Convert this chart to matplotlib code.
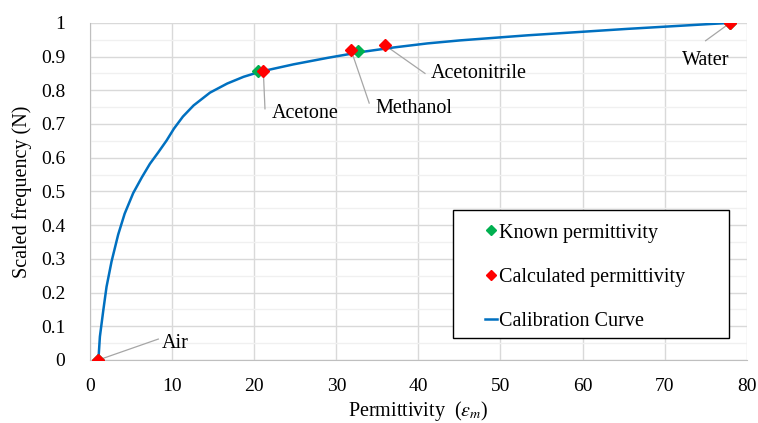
import numpy as np
import matplotlib
matplotlib.use('Agg')
import matplotlib.pyplot as plt
from matplotlib.ticker import MultipleLocator
from matplotlib.patches import Rectangle

# calibration curve
curve_x = [1, 1.18, 1.6, 1.99, 2.6, 3.41, 4.2, 5.24, 6.3, 7.28, 8.3, 9.31, 10.2, 11.3,
           12.6, 14.6, 16.7, 18.7, 20.7, 24.8, 28.9, 32.9, 37.0, 41.1, 45.1, 53.3, 65.4, 78]
curve_y = [0, 0.069, 0.148, 0.217, 0.292, 0.372, 0.434, 0.495, 0.542, 0.582, 0.616, 0.651,
           0.686, 0.722, 0.755, 0.793, 0.82, 0.84, 0.855, 0.877, 0.896, 0.913, 0.927,
           0.939, 0.948, 0.963, 0.982, 1.0]

known_x = [1, 20.5, 32.6, 78]
known_y = [0, 0.856, 0.917, 1.0]

calc_names = ['Air', 'Acetone', 'Methanol', 'Acetonitrile', 'Water']
calc_x = [1, 21.1, 31.8, 35.9, 78]
calc_y = [0, 0.856, 0.919, 0.934, 1.0]

# label positions (data coords)
label_xy = [(8.7, 0.05), (22.1, 0.73), (34.8, 0.745), (41.5, 0.85), (72.1, 0.888)]
leader_end = [(8.3, 0.062), (21.3, 0.745), (34.0, 0.762), (40.8, 0.85), (75.0, 0.947)]

plt.rcParams['font.family'] = ['Liberation Serif', 'DejaVu Serif']
plt.rcParams['mathtext.fontset'] = 'stix'
FS = 14.5

fig = plt.figure(figsize=(7.58, 4.23), dpi=100)
ax = fig.add_axes([0.119, 0.149, 0.866, 0.797])

ax.set_xlim(0, 80)
ax.set_ylim(0, 1)
ax.xaxis.set_major_locator(MultipleLocator(10))
ax.yaxis.set_minor_locator(MultipleLocator(0.05))
ax.grid(which='major', color='#d9d9d9', lw=1, zorder=0)
ax.grid(which='minor', axis='y', color='#f0f0f0', lw=1, zorder=0)
ax.set_axisbelow(True)
for s in ['top', 'right']:
    ax.spines[s].set_visible(False)
for s in ['left', 'bottom']:
    ax.spines[s].set_color('#bfbfbf')
ax.tick_params(which='both', length=0, labelsize=14, pad=13)
ax.tick_params(axis='y', pad=18)
ax.set_yticks(np.arange(0, 1.01, 0.1))
ax.set_yticklabels(['0'] + ['%.1f' % v for v in np.arange(0.1, 0.95, 0.1)] + ['1'])

for (lx, ly), px, py in zip(leader_end, calc_x, calc_y):
    ax.plot([px, lx], [py, ly], color='#a6a6a6', lw=0.9, zorder=2)

ax.plot(curve_x, curve_y, color='#0070c0', lw=1.8, zorder=3, label='Calibration Curve',
        solid_joinstyle='round')
ax.plot(known_x, known_y, ls='none', marker='D', ms=6.5, color='#00b050', zorder=4,
        label='Known permittivity')
ax.plot(calc_x, calc_y, ls='none', marker='D', ms=6.5, color='#ff0000', zorder=5,
        label='Calculated permittivity')

for name, (tx, ty) in zip(calc_names, label_xy):
    ax.text(tx, ty, name, fontsize=FS, ha='left', va='center', zorder=6)

# legend frame drawn separately
ax.add_patch(Rectangle((0.553, 0.065), 0.42, 0.38, transform=ax.transAxes,
                       facecolor='white', edgecolor='black', lw=1.0, zorder=7))
h, l = ax.get_legend_handles_labels()
order = [1, 2, 0]
leg = ax.legend([h[i] for i in order], [l[i] for i in order], loc='upper left',
                bbox_to_anchor=(0.601, 0.405), fontsize=FS, frameon=False,
                borderaxespad=0, borderpad=0, handlelength=0.6, handletextpad=0.1,
                labelspacing=1.25, markerscale=0.75)
leg.set_zorder(8)

ax.set_xlabel(r'Permittivity  ($\varepsilon_m$)', fontsize=FS, labelpad=3)
ax.set_ylabel('Scaled frequency (N)', fontsize=FS, labelpad=6)

fig.savefig('out.png', dpi=100)
